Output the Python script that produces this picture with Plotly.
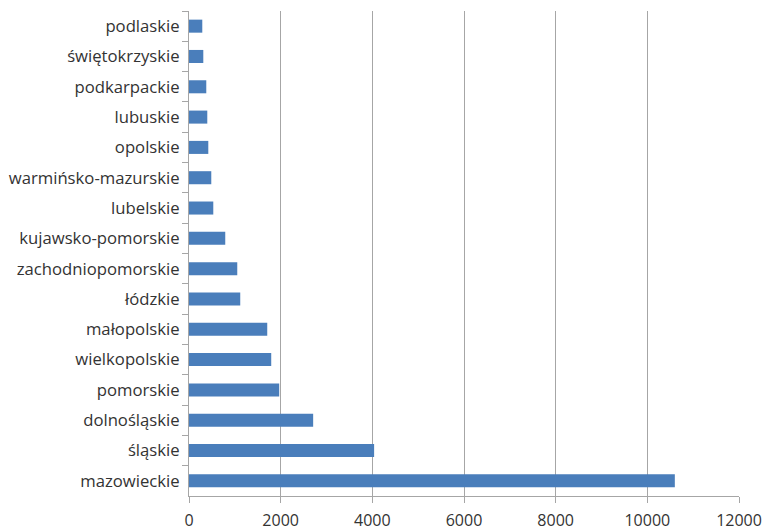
import plotly.graph_objects as go

regions = ["podlaskie", "świętokrzyskie", "podkarpackie", "lubuskie", "opolskie",
           "warmińsko-mazurskie", "lubelskie", "kujawsko-pomorskie", "zachodniopomorskie",
           "łódzkie", "małopolskie", "wielkopolskie", "pomorskie", "dolnośląskie",
           "śląskie", "mazowieckie"]
values = [290, 312, 377, 399, 421, 486, 530, 791, 1053, 1118, 1707, 1794, 1968, 2709, 4039, 10600]
x_ticks = [0, 2000, 4000, 6000, 8000, 10000, 12000]

fig = go.Figure(go.Bar(
    y=regions, x=values, orientation="h",
    marker=dict(color="#4a7ebb", line=dict(width=0)),
))

fig.update_layout(
    width=764, height=531,
    margin=dict(l=189, r=25, t=11, b=35),
    paper_bgcolor="white", plot_bgcolor="white",
    bargap=0.57,
    showlegend=False,
    font=dict(family="Open Sans", size=16, color="#333333"),
)
fig.update_xaxes(
    range=[0, 12000], tickvals=x_ticks, ticktext=[str(v) for v in x_ticks],
    showgrid=True, gridcolor="#a6a6a6", gridwidth=1,
    showline=True, linecolor="#a6a6a6", linewidth=1,
    ticks="outside", ticklen=6, tickcolor="#a6a6a6",
    zeroline=False, fixedrange=True, automargin=False,
    ticklabelstandoff=4,
)
fig.update_yaxes(
    autorange="reversed", type="category",
    showgrid=False, showline=True, linecolor="#a6a6a6", linewidth=1,
    ticks="outside", ticklen=6, tickcolor="#a6a6a6", tickson="boundaries",
    ticklabelstandoff=5, automargin=False,
    tickfont=dict(size=16.7),
)
fig.write_html("out.html")
